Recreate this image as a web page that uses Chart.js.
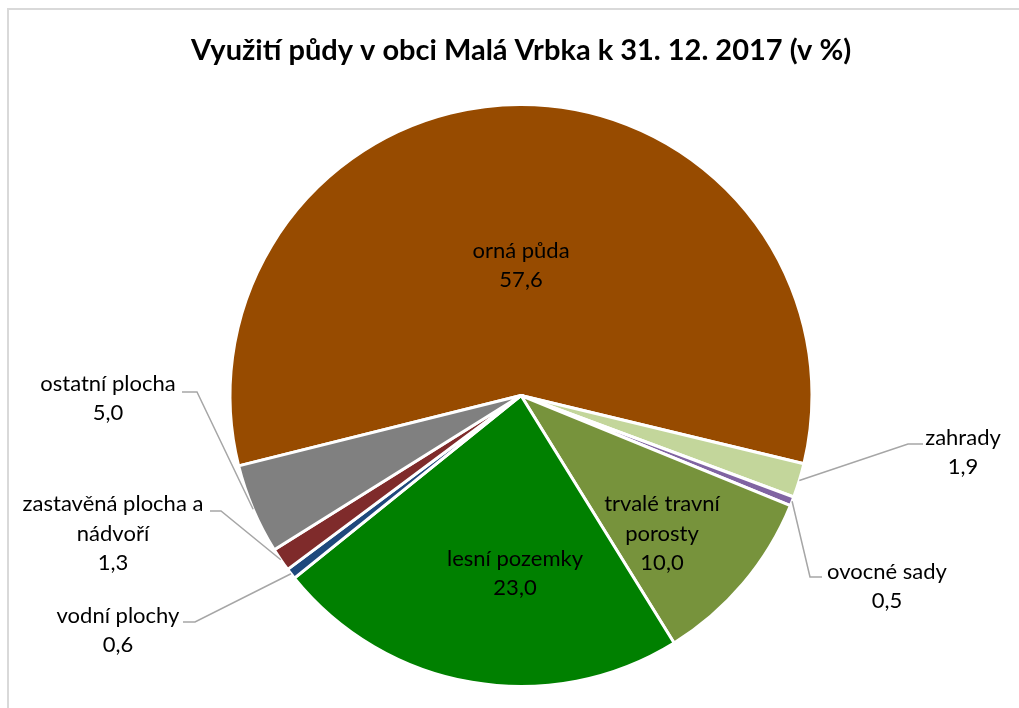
<!DOCTYPE html>
<html>
<head>
<meta charset="utf-8">
<script src="https://cdn.jsdelivr.net/npm/chart.js@4/dist/chart.umd.min.js"></script>
<style>
html, body { margin: 0; padding: 0; background: #fff; overflow: hidden; }
#wrap { position: relative; width: 1019px; height: 708px; overflow: hidden; }
#frame { position: absolute; left: 7px; top: 8px; width: 1100px; height: 800px; border: 2px solid #d9d9d9; box-sizing: border-box; }
canvas { position: absolute; left: 0; top: 0; }
</style>
</head>
<body>
<div id="wrap">
  <div id="frame"></div>
  <canvas id="landChart" width="1019" height="708"></canvas>
</div>
<script>
// land use categories, clockwise from the top
var categories = ['orná půda', 'zahrady', 'ovocné sady', 'trvalé travní porosty', 'lesní pozemky', 'vodní plochy', 'zastavěná plocha a nádvoří', 'ostatní plocha']
var labelLines = [['orná půda'], ['zahrady'], ['ovocné sady'], ['trvalé travní', 'porosty'], ['lesní pozemky'], ['vodní plochy'], ['zastavěná plocha a', 'nádvoří'], ['ostatní plocha']]
var shares = [57.6, 1.9, 0.5, 10.0, 23.0, 0.6, 1.3, 5.0]
var sliceColors = ['#974b00', '#c3d69b', '#8064a2', '#77933c', '#008000', '#1f497d', '#7f2b2b', '#808080']
var chartTitle = 'Využití půdy v obci Malá Vrbka k 31. 12. 2017 (v %)'

// label placement relative to pie centre (px); elbow/end only for labels outside the pie
var labelPlace = [
  { tx: 0, ty: -130 },
  { tx: 442, ty: 57, elbow: [387, 48.5], end: [402, 48.5] },
  { tx: 366, ty: 191, elbow: [289, 181.5], end: [301, 181.5] },
  { tx: 141, ty: 138 },
  { tx: -6, ty: 178 },
  { tx: -403, ty: 235, elbow: [-326, 226.5], end: [-338, 226.5] },
  { tx: -408, ty: 138, elbow: [-300, 115.5], end: [-311, 115.5] },
  { tx: -413, ty: 3, elbow: [-324, -3.5], end: [-339, -3.5] }
]

function fmt(v){ return v.toFixed(1).replace('.', ',') }

var labelPlugin = {
  id: 'pieLabels',
  afterDatasetsDraw: function(chart){
    var ctx = chart.ctx
    var meta = chart.getDatasetMeta(0)
    ctx.save()
    // title
    ctx.fillStyle = '#000'
    ctx.font = 'bold 29px Lato'
    ctx.textAlign = 'center'
    ctx.textBaseline = 'middle'
    ctx.fillText(chartTitle, meta.data[0].x, 51)

    ctx.font = '22px Lato'
    meta.data.forEach(function(arc, i){
      var cx = arc.x, cy = arc.y
      var p = labelPlace[i]
      if (p.elbow) {
        var mid = (arc.startAngle + arc.endAngle) / 2
        var ax = cx + Math.cos(mid) * arc.outerRadius
        var ay = cy + Math.sin(mid) * arc.outerRadius
        ctx.strokeStyle = '#a6a6a6'
        ctx.lineWidth = 1.5
        ctx.beginPath()
        ctx.moveTo(ax, ay)
        ctx.lineTo(cx + p.elbow[0], cy + p.elbow[1])
        ctx.lineTo(cx + p.end[0], cy + p.end[1])
        ctx.stroke()
      }
      var lines = labelLines[i].concat([fmt(shares[i])])
      var lh = 29.5
      var y0 = cy + p.ty - (lines.length - 1) * lh / 2
      ctx.fillStyle = '#000'
      lines.forEach(function(t, k){
        ctx.fillText(t, cx + p.tx, y0 + k * lh)
      })
    })
    ctx.restore()
  }
}

new Chart(document.getElementById('landChart'), {
  type: 'pie',
  data: {
    labels: categories,
    datasets: [{
      data: shares,
      backgroundColor: sliceColors,
      borderColor: '#ffffff',
      borderWidth: 3,
      radius: 291
    }]
  },
  options: {
    responsive: false,
    animation: false,
    events: [],
    rotation: -104,
    layout: { padding: { left: 23, right: 0, top: 100, bottom: 17 } },
    plugins: {
      legend: { display: false },
      tooltip: { enabled: false },
      title: { display: false }
    }
  },
  plugins: [labelPlugin]
})
</script>
</body>
</html>
